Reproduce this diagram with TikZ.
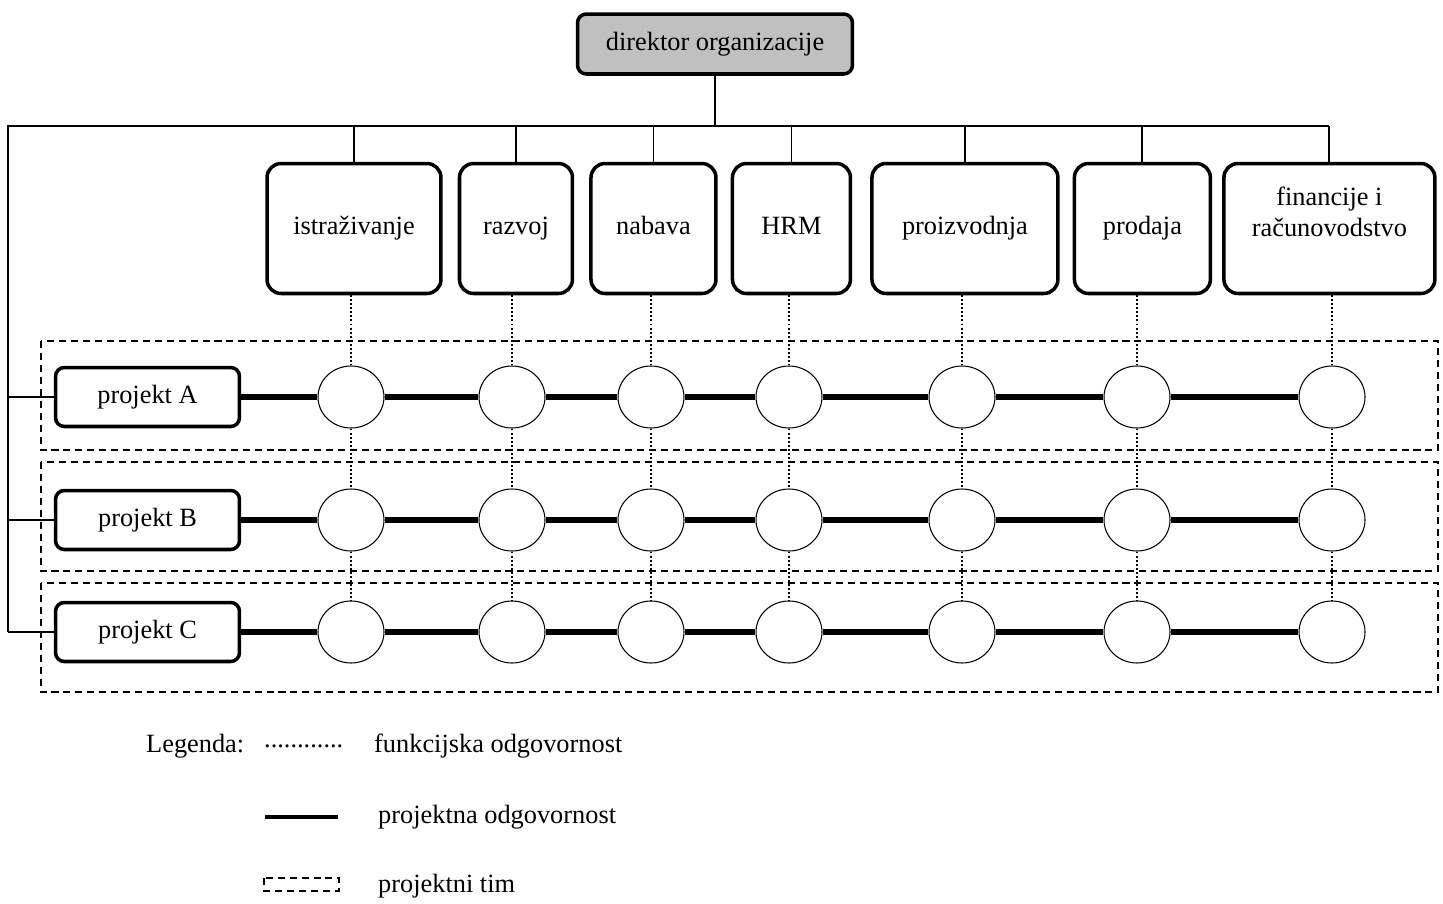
\documentclass[tikz,border=0pt]{standalone}
\usepackage{fontspec}
\setmainfont{Liberation Serif}
\usetikzlibrary{positioning}
\usetikzlibrary{shapes.geometric}
\definecolor{dirgray}{RGB}{192,192,192}

\begin{document}
\begin{tikzpicture}[x=0.02cm, y=-0.02cm, font=\fontsize{15}{17.5}\selectfont,
    box/.style={draw=black, line width=2pt, align=center, inner sep=0pt},
    dept/.style={box, rounded corners=8pt, minimum height=2.6cm, execute at begin node=\strut},
    proj/.style={box, rounded corners=5pt, minimum width=3.68cm, minimum height=1.18cm},
    member/.style={ellipse, draw=black, fill=white, line width=0.6pt, minimum width=1.32cm, minimum height=1.24cm, inner sep=0pt},
    link/.style={line width=1.1pt},
    func/.style={line width=1.1pt, dash pattern=on 1.1pt off 1.2pt},
    projline/.style={line width=2.9pt},
    team/.style={draw=black, line width=0.8pt, dash pattern=on 4pt off 2.8pt}]
    \useasboundingbox (0,0) rectangle (1443,903);

    % projektni timovi
    \foreach \y in {341,462,583}
        \draw[team] (41,\y) rectangle (1438,\y+109);

    % direktor i funkcije
    \node[box, rounded corners=5pt, fill=dirgray, minimum width=5.5cm, minimum height=1.2cm] (dir) at (715,44) {direktor organizacije};
    \node[dept, minimum width=3.48cm] (istr) at (354,228.5) {istraživanje};
    \node[dept, minimum width=2.26cm, right=0.30cm of istr] (razvoj) {razvoj};
    \node[dept, minimum width=2.50cm, right=0.30cm of razvoj] (nabava) {nabava};
    \node[dept, minimum width=2.36cm, right=0.26cm of nabava] (hrm) {HRM};
    \node[dept, minimum width=3.72cm, right=0.36cm of hrm] (proiz) {proizvodnja};
    \node[dept, minimum width=2.72cm, right=0.26cm of proiz] (prodaja) {prodaja};
    \node[dept, minimum width=4.22cm, right=0.20cm of prodaja] (fin) {financije i\\računovodstvo\\[-4pt]\strut};

    % projekti
    \node[proj] (pA) at (147.5,397) {projekt A};
    \node[proj] (pB) at (147.5,520) {projekt B};
    \node[proj] (pC) at (147.5,632) {projekt C};

    \foreach \r/\y in {A/397, B/520, C/632}
        \foreach \d/\x in {1/351, 2/512, 3/651, 4/789, 5/962, 6/1137, 7/1332}
            \node[member] (m\r\d) at (\x,\y) {};

    % linije
    \coordinate (corner) at (8,126);
    \draw[link] (dir.south) -- (dir.south |- corner);
    \draw[link] (fin.north |- corner) -- (corner) -- (corner |- pC.west);
    \foreach \n in {istr,razvoj,nabava,hrm,proiz,prodaja,fin}
        \draw[link] (\n.north) -- (\n.north |- corner);
    \foreach \r in {A,B,C}
        \draw[link] (corner |- p\r.west) -- (p\r.west);

    \foreach \r in {A,B,C}{
        \draw[projline] (p\r.east) -- (m\r1.west);
        \foreach \d/\e in {1/2,2/3,3/4,4/5,5/6,6/7}
            \draw[projline] (m\r\d.east) -- (m\r\e.west);
    }

    \foreach \n/\d in {istr/1,razvoj/2,nabava/3,hrm/4,proiz/5,prodaja/6,fin/7}{
        \draw[func] (\n.south -| mA\d) -- (mA\d.north);
        \draw[func] (mA\d.south) -- (mB\d.north);
        \draw[func] (mB\d.south) -- (mC\d.north);
    }

    % legenda
    \node[anchor=west] (leg) at (140,746) {Legenda:};
    \node[anchor=west] (fdots) at (258,746) {............};
    \node[anchor=west] (ftxt) at (368,746) {funkcijska odgovornost};
    \coordinate (ls) at (265,817);
    \coordinate (le) at (338,817);
    \draw[line width=2.3pt] (ls) -- (le);
    \node[anchor=west] (ptxt) at (372,817) {projektna odgovornost};
    \coordinate (ts) at (264,878);
    \coordinate (te) at (339,891);
    \draw[team] (ts) rectangle (te);
    \node[anchor=west] (ttxt) at (372,886) {projektni tim};
\end{tikzpicture}
\end{document}
